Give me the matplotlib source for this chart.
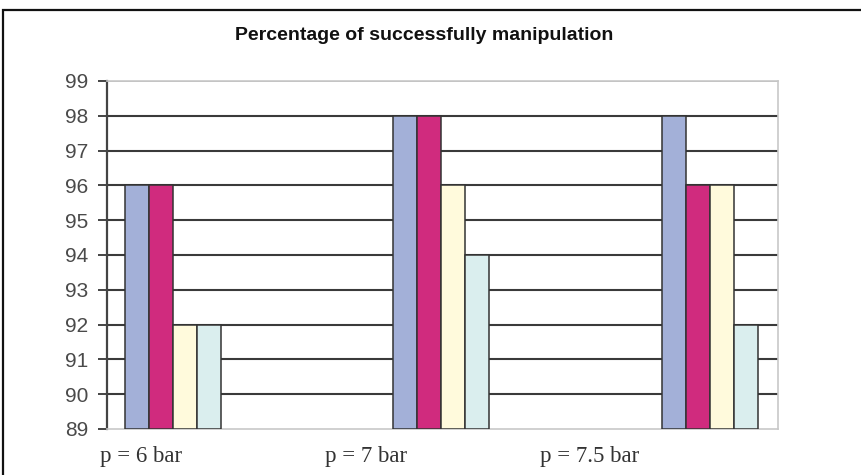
import matplotlib
matplotlib.use("Agg")
import matplotlib.pyplot as plt
from matplotlib.patches import Rectangle
import numpy as np

categories = ["p = 6 bar", "p = 7 bar", "p = 7.5 bar"]
series1 = [96, 98, 98]
series2 = [96, 98, 96]
series3 = [92, 96, 96]
series4 = [92, 94, 92]
series_values = [series1, series2, series3, series4]
colors = ["#A3B0D8", "#D02B7E", "#FFFADC", "#DAEEEE"]
yticks = list(range(89, 100))

W, H = 862, 475
fig = plt.figure(figsize=(W / 100, H / 100), dpi=100)
fig.patch.set_facecolor("white")

# outer frame
fig.patches.append(Rectangle((3.5 / W, -0.05), 1.1, 1 - 9.5 / H + 0.05,
                             transform=fig.transFigure, fill=False,
                             edgecolor="#111111", linewidth=1.6, clip_on=False))

left, right, top, bottom = 107, 778, 81, 429
ax = fig.add_axes([left / W, 1 - bottom / H, (right - left) / W, (bottom - top) / H])

bw = 0.0894
group_x = np.arange(len(categories))
for i, vals in enumerate(series_values):
    xs = group_x + (i - 1.5) * bw
    ax.bar(xs, np.array(vals) - 89, bottom=89, width=bw, color=colors[i],
           edgecolor="#333333", linewidth=1.1, zorder=3)

ax.set_ylim(89, 99)
ax.set_xlim(-0.244, 2.255)
ax.set_yticks(yticks)
ax.set_yticklabels([str(t) for t in yticks], fontfamily="Liberation Sans",
                   fontsize=15, color="#4a4a4a")
for t in yticks[1:-1]:
    ax.axhline(t, color="#3a3a3a", linewidth=1.5, zorder=1)
ax.axhline(99, color="#b0b0b0", linewidth=1.4, zorder=1)

label_x = [-0.117, 0.721, 1.555]
ax.set_xticks(label_x)
ax.set_xticklabels(categories, fontfamily="Liberation Serif", fontsize=16.5, color="#333333")
ax.tick_params(axis="x", length=0, pad=12)
ax.tick_params(axis="y", length=6.5, width=1.4, color="#444444", pad=7)

for s in ["top", "right", "bottom"]:
    ax.spines[s].set_color("#c8c8c8")
    ax.spines[s].set_linewidth(1.2)
ax.spines["left"].set_color("#444444")
ax.spines["left"].set_linewidth(1.6)

fig.text(424 / W, 1 - 35 / H, "Percentage of successfully manipulation",
         ha="center", va="center", fontfamily="Liberation Sans",
         fontweight="bold", fontsize=14, color="#111111")

fig.savefig("out.png", dpi=100)
